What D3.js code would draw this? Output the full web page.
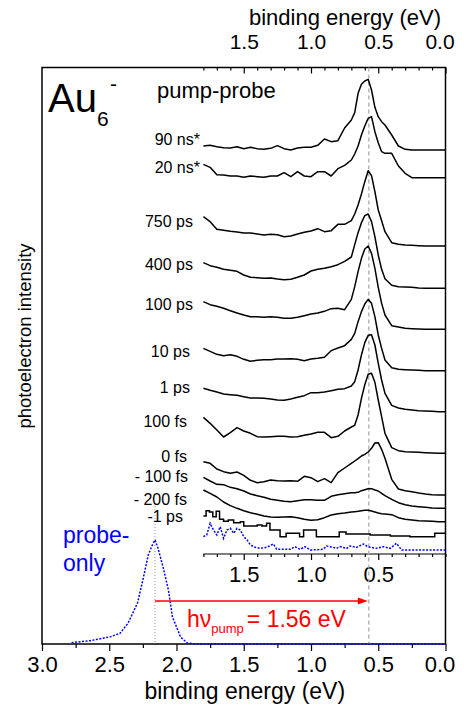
<!DOCTYPE html>
<html>
<head>
<meta charset="utf-8">
<script src="https://cdn.jsdelivr.net/npm/d3@7"></script>
<style>
  body { margin: 0; background: #fff; }
  svg text { font-family: "Liberation Sans", Arial, Helvetica, sans-serif; }
</style>
</head>
<body>
<script>
/* ---- data (binding energy in eV, intensity in arb. counts) ---- */

// energy grid shared by the pump-probe spectra
var energies = [1.80,1.75,1.70,1.65,1.60,1.55,1.50,1.45,1.40,1.35,1.30,1.25,1.20,1.15,1.10,1.05,1.00,0.95,0.90,0.85,0.80,0.75,0.70,
                0.675,0.65,0.625,0.60,0.575,0.55,0.525,0.50,0.475,0.45,
                0.40,0.35,0.30,0.25,0.20,0.15,0.10,0.05,0.00];

var delays  = ["90 ns*", "20 ns*", "750 ps", "400 ps", "100 ps", "10 ps", "1 ps", "100 fs", "0 fs", "- 100 fs", "- 200 fs"];
var offsets = [1482, 1399, 1194, 1067, 944, 820, 697, 572, 447, 407, 367];

var s90ns  = [12,14,10,7,6,10,4,8,4,2,5,13,4,0,6,8,8,14,33,25,28,66,90, 112,170,197,207,212,180,128,100,85,75, 45,12,2,0,0,0,0,0,0];
var s20ns  = [40,31,9,8,5,5,1,5,3,1,5,5,15,3,18,5,3,18,18,5,27,37,53, 71,95,128,155,178,183,138,105,78,73, 73,35,13,0,0,0,0,0,0];
var s750ps = [88,73,50,47,44,42,39,39,36,33,35,34,28,30,36,41,45,52,43,46,65,65,76, 96,123,156,193,226,211,163,108,76,43, 10,5,3,2,1,0,0,0,0];
var s400ps = [77,68,63,57,54,51,40,33,32,30,31,28,26,27,33,40,52,57,60,65,71,81,94, 131,167,197,218,223,200,155,100,57,29, 9,5,4,3,1,0,0,0,0];
var s100ps = [83,74,69,63,56,49,43,38,38,36,38,36,33,33,36,41,46,49,54,62,63,59,90, 128,173,213,241,250,228,183,126,78,43, 11,7,3,2,1,0,0,0,0];
var s10ps  = [67,58,49,45,48,43,34,28,31,33,33,35,35,36,34,30,35,37,40,60,68,75,94, 112,147,177,200,214,202,162,107,67,32, 9,4,3,2,1,0,0,0,0];
var s1ps   = [70,64,59,53,51,49,45,41,41,40,38,35,34,38,43,48,57,57,59,63,67,69,77, 90,125,170,207,229,231,200,145,95,55, 19,11,7,5,3,2,1,0,0];
var s100fs = [108,90,70,49,62,77,67,60,50,49,50,51,51,49,50,54,58,63,63,47,51,67,79, 84,115,165,206,237,240,213,160,110,60, 17,8,5,4,3,2,1,0,0];
var s0fs   = [100,95,78,70,65,69,59,44,37,40,45,43,42,43,41,56,52,40,49,37,67,81,95, 102,109,117,122,129,140,156,157,137,110, 47,18,13,10,6,3,1,0,0];
var sm100fs = [93,82,72,71,63,59,52,43,38,33,27,24,21,20,23,26,26,24,24,36,41,44,47, 47,48,53,56,59,59,55,52,45,38, 27,17,11,7,5,3,1,0,0];
var sm200fs = [95,85,74,59,48,40,33,27,22,17,14,13,14,15,12,7,4,6,12,20,24,26,29, 30,31,33,34,34,32,29,26,24,23, 21,12,7,5,3,2,1,0,0];
var spectra = [s90ns, s20ns, s750ps, s400ps, s100ps, s10ps, s1ps, s100fs, s0fs, sm100fs, sm200fs];

// -1 ps spectrum (coarse, step-like)
var m1psLabel  = "-1 ps";
var m1psOffset = 332;
var m1psEnergies = [1.80,1.78,1.755,1.73,1.705,1.68,1.65,1.615,1.575,1.525,1.50,1.40,1.365,1.33,1.305,1.23,1.185,1.085,1.055,0.96,0.79,0.74,0.56,0.41,0.265,0.08,0.00];
var m1psCounts   = [52,68,64,50,66,42,36,40,32,35,22,25,22,30,10,-10,0,-10,10,-10,4,-2,-5,-8,-10,0,0];

// probe-only signal shown inside the pump-probe window
var insetProbeOffset = 282;
var insetProbeEnergies = [1.80,1.775,1.75,1.725,1.70,1.675,1.65,1.625,1.60,1.575,1.55,1.525,1.50,1.475,1.45,1.415,1.38,1.33,1.28,1.255,
                          1.155,1.12,1.08,1.045,1.005,0.91,0.885,0.835,0.81,0.785,0.735,0.71,0.66,0.61,0.585,0.56,0.51,0.46,0.41,0.365,0.325,0.00];
var insetProbeCounts   = [40,45,80,60,45,70,35,60,65,50,65,60,40,30,15,8,5,8,18,2,
                          2,10,2,10,0,2,12,8,5,10,5,12,8,18,12,8,5,10,5,20,0,0];

// probe-only spectrum, full range
var probeEnergies = [2.78,2.64,2.49,2.42,2.36,2.29,2.25,2.21,2.18,2.16,2.14,2.10,2.06,2.03,1.97,1.92,1.85,0.00];
var probeCounts   = [4,10,22,32,63,123,192,267,297,312,291,231,162,81,21,3,0,0];

var probePeak  = 2.16;   // eV
var pumpEnergy = 1.56;   // eV
var peakLine   = 0.57;   // eV

var bottomMajor = [3.0,2.5,2.0,1.5,1.0,0.5,0.0];
var bottomMinor = [2.75,2.25,1.75,1.25,0.75,0.25];
var topMajor    = [1.5,1.0,0.5,0.0];
var topMinor    = [1.8,1.7,1.6,1.4,1.3,1.2,1.1,0.9,0.8,0.7,0.6,0.4,0.3,0.2,0.1];
var insetMajor  = [1.5,1.0,0.5];

/* ---- layout ---- */
var W = 464, H = 706;
var frame = {left: 42, right: 445.5, top: 67.5, bottom: 644};
var insetAxisY = 554;
var labelPos = [[200,145],[200,173],[193,227],[193,270],[193,310],[190,357],[190,393],[187,427],[187,462],[188,482],[187,505]];
var m1psLabelPos = [183,522];

var x = d3.scaleLinear().domain([3, 0]).range([frame.left, frame.right]);
var y = d3.scaleLinear().domain([0, 1731]).range([frame.bottom, 67]);

var svg = d3.select("body").append("svg")
    .attr("width", W)
    .attr("height", H);

var fmt = d3.format(".1f");

// frame
svg.append("rect")
    .attr("x", frame.left).attr("y", frame.top)
    .attr("width", frame.right - frame.left)
    .attr("height", frame.bottom - frame.top)
    .attr("fill", "none").attr("stroke", "#000").attr("stroke-width", 1.5);

// bottom axis
var gb = svg.append("g").attr("transform", "translate(0," + frame.bottom + ")")
    .call(d3.axisBottom(x).tickValues(bottomMajor).tickFormat(fmt).tickSizeInner(7).tickSizeOuter(0));
svg.append("g").attr("transform", "translate(0," + frame.bottom + ")")
    .call(d3.axisBottom(x).tickValues(bottomMinor).tickFormat("").tickSizeInner(4).tickSizeOuter(0));

// top axis (ticks pointing into the frame)
var gt = svg.append("g").attr("transform", "translate(0," + frame.top + ")")
    .call(d3.axisTop(x).tickValues(topMajor).tickFormat(fmt).tickSizeInner(-6).tickSizeOuter(0));
svg.append("g").attr("transform", "translate(0," + frame.top + ")")
    .call(d3.axisTop(x).tickValues(topMinor).tickFormat("").tickSizeInner(-3).tickSizeOuter(0));

// inset axis
var xi = d3.scaleLinear().domain([1.8, 0]).range([x(1.8), x(0)]);
var gi = svg.append("g").attr("transform", "translate(0," + insetAxisY + ")")
    .call(d3.axisBottom(xi).tickValues(insetMajor).tickFormat(fmt).tickSizeInner(6).tickSizeOuter(0));
svg.append("g").attr("transform", "translate(0," + insetAxisY + ")")
    .call(d3.axisBottom(xi).tickValues(topMinor.concat([0.0])).tickFormat("").tickSizeInner(3).tickSizeOuter(0));

svg.selectAll(".domain").attr("stroke", "none");
svg.selectAll(".tick line").attr("stroke", "#000").attr("stroke-width", 1.2);
svg.selectAll(".tick text").attr("font-size", 22).attr("fill", "#000").attr("dy", null);
gb.selectAll(".tick text").attr("y", 28);
gi.selectAll(".tick text").attr("y", 28);
gt.selectAll(".tick text").attr("y", -19).attr("font-size", 21);
gb.selectAll(".tick text").filter(function(d) { return d === 0; }).attr("dx", -6);
gt.selectAll(".tick text").filter(function(d) { return d === 0; }).attr("dx", -6);
// inset axis baseline
svg.append("line")
    .attr("x1", xi(1.8)).attr("x2", xi(0))
    .attr("y1", insetAxisY).attr("y2", insetAxisY)
    .attr("stroke", "#000").attr("stroke-width", 1.2);

// reference lines
svg.append("line")
    .attr("x1", x(peakLine)).attr("x2", x(peakLine))
    .attr("y1", frame.top).attr("y2", frame.bottom)
    .attr("stroke", "#aaa").attr("stroke-width", 1.3).attr("stroke-dasharray", "4,3");
svg.append("line")
    .attr("x1", x(probePeak)).attr("x2", x(probePeak))
    .attr("y1", 503).attr("y2", frame.bottom)
    .attr("stroke", "#999").attr("stroke-width", 1).attr("stroke-dasharray", "1,2");

// pump-probe spectra
spectra.forEach(function(vals, i) {
    var off = offsets[i];
    var line = d3.line()
        .x(function(d, j) { return x(energies[j]); })
        .y(function(d) { return y(off + d); });
    svg.append("path")
        .attr("d", line(vals))
        .attr("fill", "none").attr("stroke", "#000").attr("stroke-width", 1.5)
        .attr("stroke-linejoin", "round");
    svg.append("text")
        .attr("x", labelPos[i][0]).attr("y", labelPos[i][1])
        .attr("text-anchor", "end").attr("font-size", 16)
        .text(delays[i]);
});

var stepLine = d3.line()
    .x(function(d, j) { return x(m1psEnergies[j]); })
    .y(function(d) { return y(m1psOffset + d); })
    .curve(d3.curveStepAfter);
svg.append("path")
    .attr("d", stepLine(m1psCounts))
    .attr("fill", "none").attr("stroke", "#000").attr("stroke-width", 1.5);
svg.append("text")
    .attr("x", m1psLabelPos[0]).attr("y", m1psLabelPos[1])
    .attr("text-anchor", "end").attr("font-size", 16)
    .text(m1psLabel);

// probe-only traces (blue dotted)
var insetLine = d3.line()
    .x(function(d, j) { return x(insetProbeEnergies[j]); })
    .y(function(d) { return y(insetProbeOffset + d); });
svg.append("path")
    .attr("d", insetLine(insetProbeCounts))
    .attr("fill", "none").attr("stroke", "#0000ff").attr("stroke-width", 1.5)
    .attr("stroke-dasharray", "2,1.5");

var probeLine = d3.line()
    .x(function(d, j) { return x(probeEnergies[j]); })
    .y(function(d) { return y(d); });
svg.append("path")
    .attr("d", probeLine(probeCounts))
    .attr("fill", "none").attr("stroke", "#0000ff").attr("stroke-width", 1.5)
    .attr("stroke-dasharray", "2,1.5");

// pump photon energy arrow (probe peak -> main peak)
var arrowY = 601;
var tip = x(peakLine) - 1;
svg.append("line")
    .attr("x1", x(probePeak)).attr("x2", tip - 8)
    .attr("y1", arrowY).attr("y2", arrowY)
    .attr("stroke", "#ff0000").attr("stroke-width", 1.6);
svg.append("path")
    .attr("d", "M" + tip + "," + arrowY + "L" + (tip - 10) + "," + (arrowY - 3.5) + "L" + (tip - 10) + "," + (arrowY + 3.5) + "Z")
    .attr("fill", "#ff0000");

var hv = svg.append("text")
    .attr("x", 187).attr("y", 627)
    .attr("font-size", 23).attr("fill", "#ff0000");
hv.append("tspan").text("h\u03bd");
hv.append("tspan").attr("font-size", 13).attr("dy", 6).text("pump");
hv.append("tspan").attr("dy", -6).attr("dx", 3).text("= " + pumpEnergy.toFixed(2) + " eV");

// texts
svg.append("text").attr("x", 63).attr("y", 543).attr("font-size", 23).attr("fill", "#0000ff").text("probe-");
svg.append("text").attr("x", 63).attr("y", 571).attr("font-size", 23).attr("fill", "#0000ff").text("only");

svg.append("text").attr("x", 157).attr("y", 98).attr("font-size", 22).text("pump-probe");

svg.append("text").attr("x", 48).attr("y", 112).attr("font-size", 40).text("Au");
svg.append("text").attr("x", 97).attr("y", 126).attr("font-size", 21).text("6");
svg.append("text").attr("x", 110).attr("y", 91).attr("font-size", 21).text("-");

svg.append("text")
    .attr("x", (frame.left + frame.right) / 2 + 1).attr("y", 699)
    .attr("text-anchor", "middle").attr("font-size", 23)
    .text("binding energy (eV)");
svg.append("text")
    .attr("x", 345).attr("y", 25)
    .attr("text-anchor", "middle").attr("font-size", 22)
    .text("binding energy (eV)");
svg.append("text")
    .attr("transform", "translate(31,336) rotate(-90)")
    .attr("text-anchor", "middle").attr("font-size", 18.5)
    .text("photoelectron intensity");
</script>
</body>
</html>
